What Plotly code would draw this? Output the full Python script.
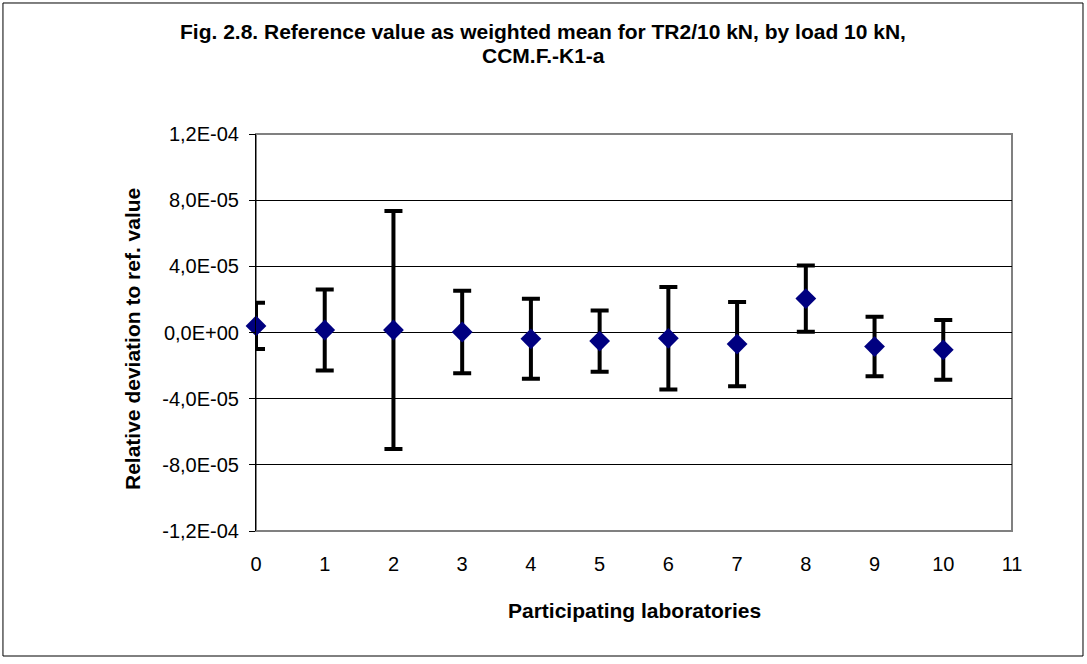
import plotly.graph_objects as go

labs = [0, 1, 2, 3, 4, 5, 6, 7, 8, 9, 10]
dev = [4.0e-6, 1.5e-6, 1.5e-6, 0.3e-6, -3.8e-6, -5.2e-6, -3.5e-6, -7.0e-6, 2.05e-5, -8.5e-6, -1.05e-5]
unc = [1.4e-5, 2.45e-5, 7.2e-5, 2.5e-5, 2.42e-5, 1.85e-5, 3.1e-5, 2.55e-5, 2.0e-5, 1.8e-5, 1.8e-5]

y_tickvals = [-1.2e-4, -8e-5, -4e-5, 0, 4e-5, 8e-5, 1.2e-4]
y_ticktext = ["-1,2E-04", "-8,0E-05", "-4,0E-05", "0,0E+00", "4,0E-05", "8,0E-05", "1,2E-04"]
x_tickvals = list(range(0, 12))

title_lines = ["Fig. 2.8. Reference value as weighted mean for TR2/10 kN, by load 10 kN,",
               "CCM.F.-K1-a"]
x_title = "Participating laboratories"
y_title = "Relative deviation to ref. value"

FONT = "Liberation Sans, Arial, sans-serif"

fig = go.Figure()
fig.add_trace(go.Scatter(
    x=labs, y=dev, mode="markers", cliponaxis=False,
    marker=dict(symbol="diamond", size=16, color="#000080", line=dict(width=0)),
    error_y=dict(type="data", array=unc, visible=True, color="black", thickness=4, width=9),
    showlegend=False,
))

annotations = [
    dict(text="<b>%s</b>" % title_lines[0], xref="paper", yref="paper", x=(543 - 256) / 756, y=(531 - 31) / 397,
         xanchor="center", yanchor="middle", showarrow=False, font=dict(family=FONT, size=21)),
    dict(text="<b>%s</b>" % title_lines[1], xref="paper", yref="paper", x=(543 - 256) / 756, y=(531 - 55) / 397,
         xanchor="center", yanchor="middle", showarrow=False, font=dict(family=FONT, size=21)),
    dict(text="<b>%s</b>" % x_title, xref="paper", yref="paper", x=(634 - 256) / 756, y=(531 - 610) / 397,
         xanchor="center", yanchor="middle", showarrow=False, font=dict(family=FONT, size=21)),
    dict(text="<b>%s</b>" % y_title, xref="paper", yref="paper", x=(132 - 256) / 756, y=(531 - 339) / 397,
         xanchor="center", yanchor="middle", showarrow=False, textangle=-90,
         font=dict(family=FONT, size=21)),
]

fig.update_layout(
    width=1087, height=664,
    margin=dict(l=256, r=75, t=134, b=133),
    paper_bgcolor="white", plot_bgcolor="white",
    font=dict(family=FONT, size=20, color="black"),
    xaxis=dict(
        range=[0, 11], tickvals=x_tickvals, ticks="", showgrid=False, zeroline=False,
        showline=False, ticklabelstandoff=19,
        tickfont=dict(family=FONT, size=20),
    ),
    yaxis=dict(
        range=[-1.2e-4, 1.2e-4], tickvals=y_tickvals, ticktext=y_ticktext,
        ticks="outside", ticklen=6, tickcolor="black", ticklabelstandoff=6,
        showgrid=True, gridcolor="black", gridwidth=1, zeroline=False,
        showline=True, linecolor="black", linewidth=1,
        tickfont=dict(family=FONT, size=20),
    ),
    annotations=annotations,
    shapes=[
        dict(type="rect", xref="paper", yref="paper", x0=0, x1=1, y0=0, y1=1,
             line=dict(color="#808080", width=2), layer="below"),
        dict(type="rect", xref="paper", yref="paper",
             x0=-0.3347, x1=1.0939, y0=-0.3149, y1=1.33,
             line=dict(color="black", width=1)),
    ],
)

fig.write_html("out.html")
